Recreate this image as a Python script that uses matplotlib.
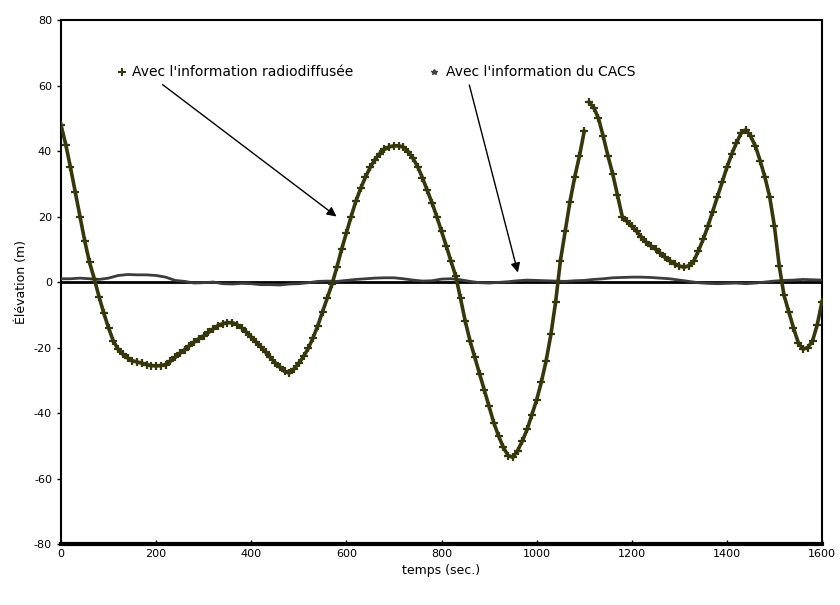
import numpy as np
import matplotlib
matplotlib.use("Agg")
import matplotlib.pyplot as plt

# temps (s), un point toutes les 10 s pour la courbe radiodiffusee
t_radio = list(range(0, 1601, 10))
elev_radio = [
    48, 42, 35, 27.5, 20, 12.5, 6, 1, -4.5, -9.5,             # 0-90
    -14, -18, -20.5, -22, -23.2, -24, -24.4, -24.8, -25.2, -25.5,   # 100-190
    -25.6, -25.5, -25.2, -24.2, -23, -21.8, -20.6, -19.4, -18.3, -17.3,  # 200-290
    -16.4, -15.4, -14.3, -13.3, -12.7, -12.4, -12.4, -13, -14, -15.3,   # 300-390
    -16.8, -18.3, -19.8, -21.4, -23, -24.6, -26, -27.3, -27.8, -26.5,   # 400-490
    -24.8, -22.7, -20.2, -17, -13.3, -9, -4.8, -0.5, 4.5, 10,         # 500-590
    15, 20, 24.7, 28.6, 32, 35, 37.4, 39.2, 40.5, 41.3,               # 600-690
    41.6, 41.6, 41.2, 39.8, 37.8, 35.2, 31.8, 28, 24.2, 20,           # 700-790
    15.5, 11, 6.3, 1.8, -5, -12, -18, -23, -28, -33,                  # 800-890
    -38, -43, -47, -50.5, -53, -53.5, -51.5, -48.5, -45, -40.5,       # 900-990
    -36, -30.5, -24, -16, -6, 6.5, 15.5, 24.5, 32, 38.5,              # 1000-1090
    46, 55, 53.3, 50, 44.5, 38.5, 33, 26.5, 20, 18.5,                 # 1100-1190
    17, 15.5, 13.8, 12.2, 11, 10, 8.8, 7.5, 6.5, 5.6,                 # 1200-1290
    4.9, 4.5, 5, 6.3, 9.5, 13, 17, 21.5, 26, 30.5,                    # 1300-1390
    35, 39, 42.5, 45.5, 46.5, 44.5, 41.5, 37, 32, 26,                 # 1400-1490
    17, 5, -4, -9, -14, -18.5, -20.5, -20, -18, -13,                  # 1500-1590
    -6,                                                               # 1600
]
# la courbe est interrompue entre 1100 s et 1110 s
gap_after = 1100

# courbe CACS, un point toutes les 20 s
t_cacs = list(range(0, 1601, 20))
elev_cacs = [
    1.0, 1.0, 1.2, 1.0, 0.8, 1.2, 2.0, 2.3, 2.2, 2.2,
    2.0, 1.5, 0.5, 0.2, -0.3, -0.2, 0.0, -0.5, -0.6, -0.4,
    -0.5, -0.8, -0.8, -0.9, -0.6, -0.5, -0.2, 0.2, 0.3, 0.2,
    0.5, 0.8, 1.0, 1.2, 1.3, 1.3, 1.0, 0.6, 0.3, 0.4,
    0.9, 1.0, 0.7, 0.2, -0.2, -0.3, -0.1, 0.1, 0.4, 0.6,
    0.5, 0.4, 0.3, 0.2, 0.4, 0.5, 0.8, 1.0, 1.3, 1.4,
    1.5, 1.5, 1.4, 1.2, 1.0, 0.6, 0.2, -0.2, -0.4, -0.5,
    -0.4, -0.3, -0.5, -0.3, 0.0, 0.3, 0.5, 0.6, 0.8, 0.7,
    0.6,
]

olive = "#37370d"
plt.rcParams["axes.unicode_minus"] = False

fig = plt.figure(figsize=(8.4, 6.05), dpi=100)
ax = fig.add_axes([0.0726, 0.1008, 0.906, 0.866])

ax.axhline(0, color="black", lw=2, zorder=2)
ax.plot(t_cacs, elev_cacs, color="#3c3c3c", lw=2, zorder=3)

t_arr = np.array(t_radio)
e_arr = np.array(elev_radio)
for part in (t_arr <= gap_after, t_arr > gap_after):
    ax.plot(t_arr[part], e_arr[part], color=olive, lw=2.6, marker="+",
            markersize=6, markeredgewidth=1.6, zorder=4)

ax.set_xlim(0, 1600)
ax.set_ylim(-80, 80)
ax.set_xticks(range(0, 1601, 200))
ax.set_yticks(range(-80, 81, 20))
ax.tick_params(labelsize=8, length=3, width=1)
ax.tick_params(axis="x", direction="in")
for sp in ax.spines.values():
    sp.set_linewidth(1.5)
ax.spines["bottom"].set_linewidth(3)

ax.set_xlabel("temps (sec.)", fontsize=9)
ax.set_ylabel("Élévation (m)", fontsize=9)

# legendes avec fleches
ax.plot([129], [64], marker="+", color=olive, markersize=6, markeredgewidth=1.5,
        clip_on=False)
ax.text(150, 64, "Avec l'information radiodiffusée", fontsize=10, va="center")
ax.plot([785], [64], marker="*", color="#404040", markersize=4, clip_on=False)
ax.text(810, 64, "Avec l'information du CACS", fontsize=10, va="center")

ax.annotate("", xy=(584, 19.5), xytext=(209, 60.8),
            arrowprops=dict(arrowstyle="-|>", color="black", lw=1,
                            mutation_scale=14))
ax.annotate("", xy=(962, 2.1), xytext=(857, 61),
            arrowprops=dict(arrowstyle="-|>", color="black", lw=1,
                            mutation_scale=14))

fig.savefig("out.png", dpi=100)
